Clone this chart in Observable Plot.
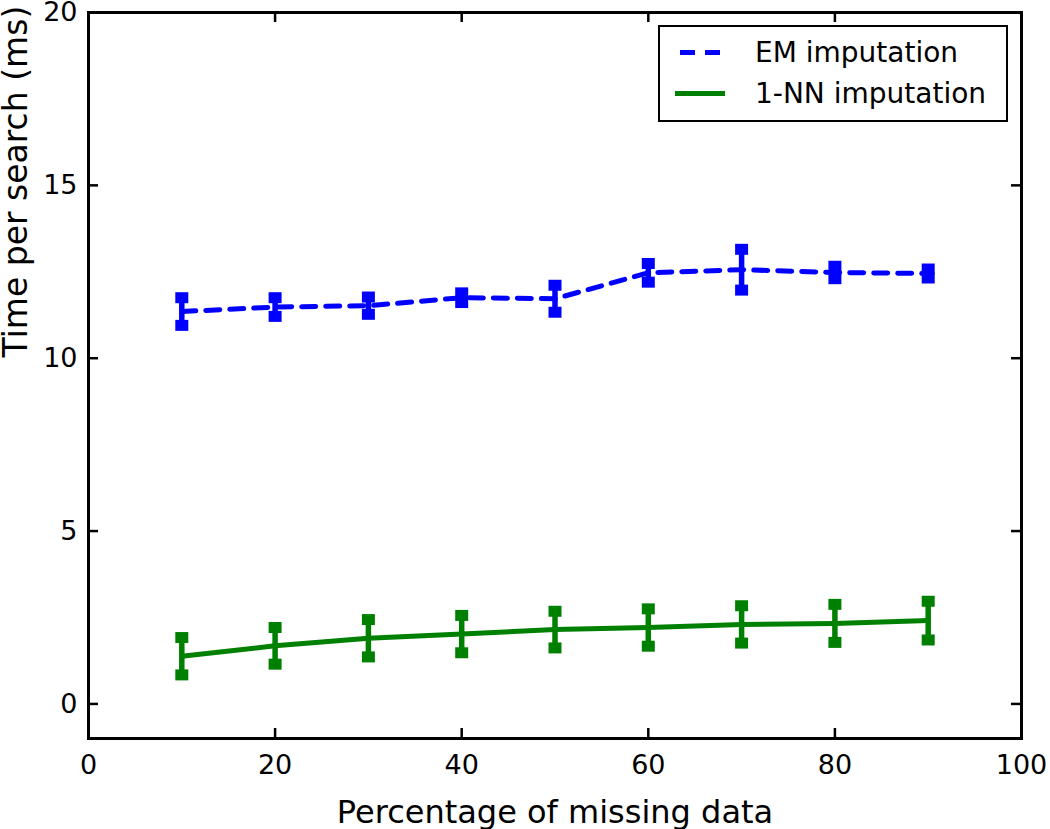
<!DOCTYPE html>
<html>
<head>
<meta charset="utf-8">
<script src="https://cdn.jsdelivr.net/npm/d3@7"></script>
<script src="https://cdn.jsdelivr.net/npm/@observablehq/plot@0.6"></script>
<style>
  html, body { margin: 0; padding: 0; background: #fff; }
  #wrap { position: relative; width: 1050px; height: 829px; font-family: "DejaVu Sans", sans-serif; }
  #wrap svg { overflow: visible; }
  #legend { position: absolute; left: 658px; top: 25px; width: 346px; height: 93px; border: 2px solid #000; background: #fff; box-sizing: content-box; }
  .row { position: absolute; left: 0; height: 40px; display: flex; align-items: center; }
  .row span { position: absolute; left: 95px; font-size: 28px; white-space: nowrap; color: #000; }
  .sample { position: absolute; left: 15px; width: 50px; height: 0; }
</style>
</head>
<body>
<div id="wrap"></div>
<script>
const percent = [10, 20, 30, 40, 50, 60, 70, 80, 90];
const emMean = [11.35, 11.48, 11.52, 11.75, 11.72, 12.47, 12.56, 12.48, 12.45];
const emErr  = [0.40, 0.27, 0.25, 0.14, 0.39, 0.27, 0.59, 0.18, 0.13];
const nnMean = [1.38, 1.68, 1.90, 2.02, 2.15, 2.21, 2.30, 2.33, 2.41];
const nnErr  = [0.54, 0.53, 0.54, 0.54, 0.53, 0.54, 0.54, 0.55, 0.56];
const xTicks = [0, 20, 40, 60, 80, 100];
const yTicks = [0, 5, 10, 15, 20];
const seriesNames = ["EM imputation", "1-NN imputation"];
const seriesColors = ["#0000ff", "#008000"];

const em = percent.map((p, i) => ({x: p, y: emMean[i], lo: emMean[i] - emErr[i], hi: emMean[i] + emErr[i]}));
const nn = percent.map((p, i) => ({x: p, y: nnMean[i], lo: nnMean[i] - nnErr[i], hi: nnMean[i] + nnErr[i]}));

const W = 1050, H = 829;
const mL = 88, mR = 29, mT = 12, mB = 91;
const fw = W - mL - mR, fh = H - mT - mB;
const capSymbol = { draw(ctx) { ctx.rect(-6.5, -5.5, 13, 11); } };

function errMarks(data, color) {
  return [
    Plot.ruleX(data, {x: "x", y1: "lo", y2: "hi", stroke: color, strokeWidth: 5.5}),
    Plot.dot(data, {x: "x", y: "hi", symbol: capSymbol, fill: color, stroke: "none", r: 5}),
    Plot.dot(data, {x: "x", y: "lo", symbol: capSymbol, fill: color, stroke: "none", r: 5})
  ];
}

const chart = Plot.plot({
  width: W, height: H,
  marginLeft: mL, marginRight: mR, marginTop: mT, marginBottom: mB,
  style: {fontFamily: "DejaVu Sans, sans-serif", background: "#fff", color: "#000", overflow: "visible"},
  x: {domain: [0, 100]},
  y: {domain: [-1, 20]},
  marks: [
    Plot.line(em, {x: "x", y: "y", stroke: seriesColors[0], strokeWidth: 5, strokeDasharray: "14,10"}),
    ...errMarks(em, seriesColors[0]),
    Plot.line(nn, {x: "x", y: "y", stroke: seriesColors[1], strokeWidth: 5}),
    ...errMarks(nn, seriesColors[1]),
    Plot.frame({stroke: "#000", strokeWidth: 3}),
    Plot.ruleX(xTicks, {x: d => d, insetTop: fh - 10, stroke: "#000", strokeWidth: 2.5}),
    Plot.ruleX(xTicks, {x: d => d, insetBottom: fh - 10, stroke: "#000", strokeWidth: 2.5}),
    Plot.ruleY(yTicks, {y: d => d, insetRight: fw - 10, stroke: "#000", strokeWidth: 2.5}),
    Plot.ruleY(yTicks, {y: d => d, insetLeft: fw - 10, stroke: "#000", strokeWidth: 2.5}),
    Plot.axisX({ticks: xTicks, tickSize: 0, tickPadding: 16, fontSize: 27, label: null}),
    Plot.axisY({ticks: yTicks, tickSize: 0, tickPadding: 11, fontSize: 27, label: null}),
    Plot.text(["Percentage of missing data"], {frameAnchor: "bottom", lineAnchor: "middle", textAnchor: "middle", dy: 74, fontSize: 32, text: d => d, fill: "#000"}),
    Plot.text(["Time per search (ms)"], {frameAnchor: "left", dx: -72, dy: -18, rotate: -90, fontSize: 33, text: d => d, fill: "#000"})
  ]
});

const wrap = document.getElementById("wrap");
wrap.appendChild(chart);

const legend = document.createElement("div");
legend.id = "legend";
seriesNames.forEach((name, i) => {
  const row = document.createElement("div");
  row.className = "row";
  row.style.top = (i === 0 ? 5 : 46) + "px";
  row.style.width = "100%";
  const s = document.createElement("div");
  s.className = "sample";
  if (i === 0) {
    s.style.height = "5px";
    s.style.background = `linear-gradient(to right, ${seriesColors[i]} 0 15px, transparent 15px 25px, ${seriesColors[i]} 25px 40px, transparent 40px)`;
    s.style.left = "20px";
  } else {
    s.style.borderTop = `5px solid ${seriesColors[i]}`;
  }
  const t = document.createElement("span");
  t.textContent = name;
  row.appendChild(s);
  row.appendChild(t);
  legend.appendChild(row);
});
wrap.appendChild(legend);
</script>
</body>
</html>
